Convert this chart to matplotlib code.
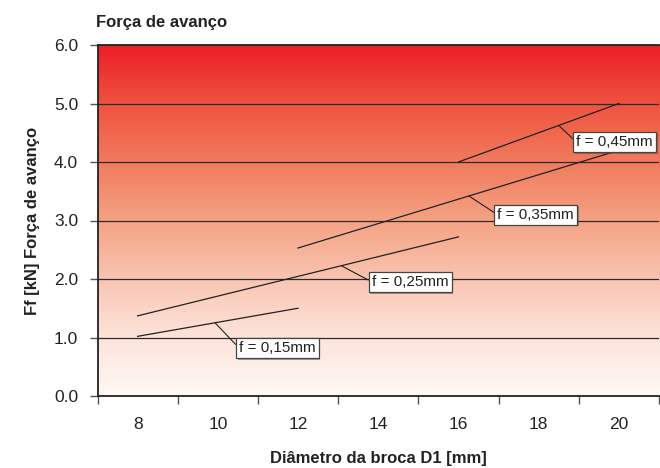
import numpy as np
import matplotlib
matplotlib.use("Agg")
import matplotlib.pyplot as plt
from matplotlib.colors import LinearSegmentedColormap
import matplotlib.patheffects as pe

plt.rcParams['font.family'] = ['Liberation Sans', 'DejaVu Sans']

# data: one straight segment per feed rate
feeds = ['f = 0,15mm', 'f = 0,25mm', 'f = 0,35mm', 'f = 0,45mm']
d_start = [8, 8, 12, 16]
d_end = [12, 16, 20, 20]
ff_start = [1.02, 1.37, 2.53, 4.0]
ff_end = [1.5, 2.72, 4.2, 5.0]

# where the leader line touches each segment (diameter) and where the label sits
lead_x = [9.93, 13.08, 16.26, 18.5]
label_pos = [(10.53, 0.82), (13.84, 1.95), (16.97, 3.10), (18.94, 4.34)]

yticks = [0.0, 1.0, 2.0, 3.0, 4.0, 5.0, 6.0]
xlabels = [8, 10, 12, 14, 16, 18, 20]

fig = plt.figure(figsize=(6.6, 4.68), dpi=100)
ax = fig.add_axes([97.5/660, 1-396/468, (659-97.5)/660, (396-45)/468])

# red -> white background gradient
cmap = LinearSegmentedColormap.from_list('bg', [
    (0.0, '#fff9f6'), (0.17, '#fde3da'), (0.33, '#f9c5b2'),
    (0.5, '#f5a284'), (0.67, '#f17a5c'), (0.83, '#ef5440'), (1.0, '#ed1f26')])
grad = np.linspace(0, 1, 256).reshape(-1, 1)
ax.imshow(grad, cmap=cmap, origin='lower', extent=[7, 21, 0, 6],
          aspect='auto', zorder=0)

ax.set_xlim(7, 21)
ax.set_ylim(0, 6)

for y in yticks[1:-1]:
    ax.axhline(y, color='#2b2b2b', lw=0.9, zorder=1)

for i in range(len(feeds)):
    ax.plot([d_start[i], d_end[i]], [ff_start[i], ff_end[i]],
            color='#222222', lw=0.9, zorder=2)
    slope = (ff_end[i] - ff_start[i]) / (d_end[i] - d_start[i])
    ly = ff_start[i] + slope * (lead_x[i] - d_start[i])
    ann = ax.annotate(feeds[i], xy=(lead_x[i], ly), xytext=label_pos[i],
                      ha='left', va='center', fontsize=11, color='#222222',
                      bbox=dict(boxstyle='square,pad=0.2', fc='white',
                                ec='#444444', lw=0.9),
                      arrowprops=dict(arrowstyle='-', color='#222222', lw=0.8,
                                      relpos=(0, 0.5), shrinkA=0, shrinkB=0),
                      zorder=5, annotation_clip=False)
    ann.get_bbox_patch().set_path_effects(
        [pe.SimplePatchShadow(offset=(1.2, -1.2), alpha=0.5), pe.Normal()])

# y axis
ax.set_yticks(yticks)
ax.set_yticklabels(['%.1f' % v for v in yticks])
ax.tick_params(axis='y', length=6, width=1, color='#555555', pad=8,
               labelsize=12.5, labelcolor='#222222')

# x axis: marks between categories, labels in the middle
ax.set_xticks(np.arange(7, 22, 2))
ax.set_xticklabels([])
ax.set_xticks(xlabels, minor=True)
ax.set_xticklabels([str(v) for v in xlabels], minor=True)
ax.tick_params(axis='x', which='major', length=6, width=1, color='#555555')
ax.tick_params(axis='x', which='minor', length=0, pad=15,
               labelsize=12.5, labelcolor='#222222')

for s in ['left', 'bottom', 'top']:
    ax.spines[s].set_color('#222222')
    ax.spines[s].set_linewidth(1.3)
ax.spines['right'].set_visible(False)

fig.text(96/660, 1-23/468, 'Força de avanço', fontsize=12, fontweight='bold',
         color='#222222', va='center', ha='left')
fig.text(378/660, 1-459/468, 'Diâmetro da broca D1 [mm]', fontsize=12,
         fontweight='bold', color='#222222', ha='center', va='center')
fig.text(33/660, 1-221/468, 'Ff [kN] Força de avanço', fontsize=12,
         fontweight='bold', color='#222222', ha='center', va='center',
         rotation=90)

fig.savefig('out.png', dpi=100)
